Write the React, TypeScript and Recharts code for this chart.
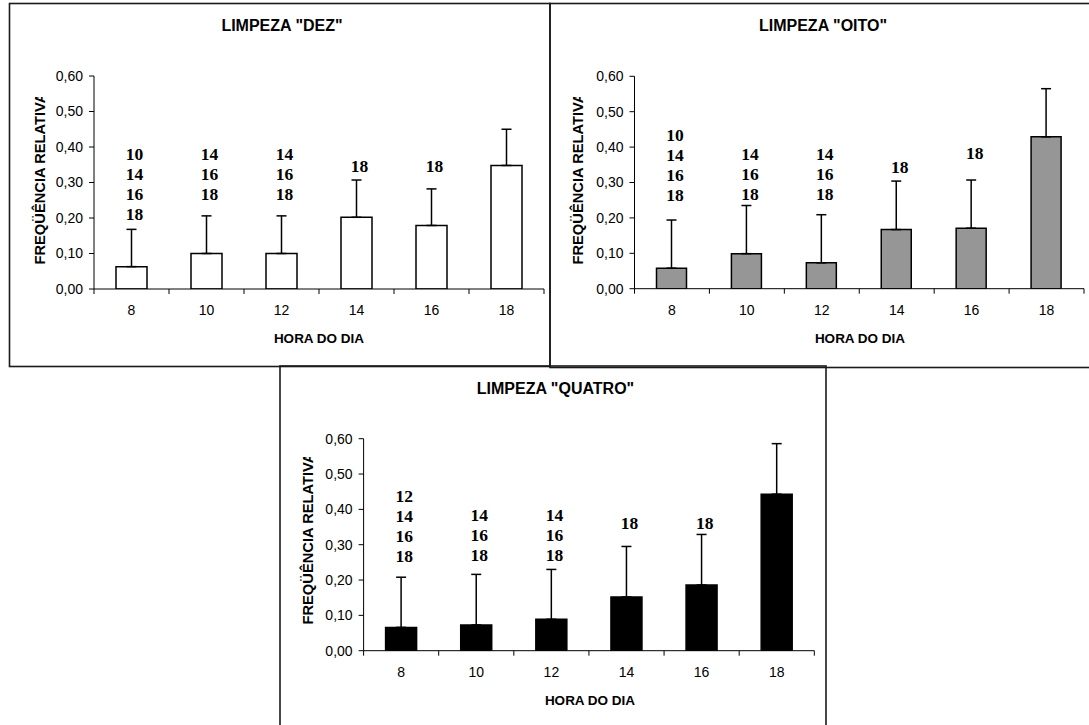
import React from 'react';
import { ComposedChart, Bar, XAxis, YAxis, ErrorBar, Scatter } from 'recharts';

// ---------- data ----------
const hours = ['8', '10', '12', '14', '16', '18'];
const yTicks = [0, 0.1, 0.2, 0.3, 0.4, 0.5, 0.6];

const dezMeans = [0.063, 0.1, 0.1, 0.202, 0.179, 0.348];
const dezErrors = [0.105, 0.106, 0.106, 0.105, 0.103, 0.102];
const dezGroups = [['10', '14', '16', '18'], ['14', '16', '18'], ['14', '16', '18'], ['18'], ['18'], []];
const dezGroupTop = [0.38, 0.38, 0.38, 0.346, 0.346, null];

const oitoMeans = [0.058, 0.099, 0.073, 0.167, 0.171, 0.429];
const oitoErrors = [0.136, 0.136, 0.136, 0.137, 0.136, 0.136];
const oitoGroups = [['10', '14', '16', '18'], ['14', '16', '18'], ['14', '16', '18'], ['18'], ['18'], []];
const oitoGroupTop = [0.434, 0.381, 0.381, 0.345, 0.384, null];

const quatroMeans = [0.066, 0.073, 0.089, 0.152, 0.186, 0.443];
const quatroErrors = [0.142, 0.143, 0.141, 0.143, 0.143, 0.143];
const quatroGroups = [['12', '14', '16', '18'], ['14', '16', '18'], ['14', '16', '18'], ['18'], ['18'], []];
const quatroGroupTop = [0.439, 0.385, 0.385, 0.362, 0.362, null];

const yAxisTitle = 'FREQÜÊNCIA RELATIVA';
const xAxisTitle = 'HORA DO DIA';

// ---------- styles / layout ----------
const SANS = '"Liberation Sans", Arial, Helvetica, sans-serif';
const SERIF = '"Liberation Serif", "Times New Roman", serif';

type Box = { x: number; y: number; w: number; h: number };
type Plot = { l: number; t: number; r: number; b: number };

type PanelDef = {
  title: string;
  means: number[];
  errors: number[];
  groups: string[][];
  groupTop: (number | null)[];
  fill: string;
  box: Box;
  plot: Plot;
  barSize: number;
  titlePos: [number, number];
  xLabelPos: [number, number];
  yLabel: { x: number; start: number; clipTop: number };
  border: Box;
};

const panels: PanelDef[] = [
  {
    title: 'LIMPEZA "DEZ"',
    means: dezMeans,
    errors: dezErrors,
    groups: dezGroups,
    groupTop: dezGroupTop,
    fill: '#ffffff',
    box: { x: 9, y: 4, w: 541, h: 362 },
    plot: { l: 94, t: 76, r: 544, b: 289 },
    barSize: 31,
    titlePos: [282, 25],
    xLabelPos: [319, 338],
    yLabel: { x: 39.5, start: 264.5, clipTop: 97 },
    border: { x: 9.5, y: 3.5, w: 540.5, h: 363 },
  },
  {
    title: 'LIMPEZA "OITO"',
    means: oitoMeans,
    errors: oitoErrors,
    groups: oitoGroups,
    groupTop: oitoGroupTop,
    fill: '#969696',
    box: { x: 550, y: 4, w: 539, h: 363 },
    plot: { l: 634.5, t: 76.3, r: 1084, b: 288.7 },
    barSize: 30,
    titlePos: [823, 25],
    xLabelPos: [860, 338],
    yLabel: { x: 578, start: 264.5, clipTop: 97 },
    border: { x: 550, y: 3.5, w: 545, h: 364 },
  },
  {
    title: 'LIMPEZA "QUATRO"',
    means: quatroMeans,
    errors: quatroErrors,
    groups: quatroGroups,
    groupTop: quatroGroupTop,
    fill: '#000000',
    box: { x: 280, y: 366, w: 546, h: 359 },
    plot: { l: 363.6, t: 438.7, r: 814.3, b: 650.7 },
    barSize: 31,
    titlePos: [555.5, 388],
    xLabelPos: [590, 700],
    yLabel: { x: 308, start: 624.5, clipTop: 457 },
    border: { x: 280, y: 366, w: 546, h: 400 },
  },
];

const fmt = (v: number) => v.toFixed(2).replace('.', ',');

function Panel({ p }: { p: PanelDef }) {
  const data = hours.map((h, i) => ({
    hour: h,
    mean: p.means[i],
    err: [0, p.errors[i]],
    top: p.groupTop[i] === null ? undefined : p.groupTop[i],
    groups: p.groups[i],
  }));
  const W = p.box.w;
  const H = p.box.h;
  const xH = 40;
  const mTop = p.plot.t - p.box.y;
  const yW = p.plot.l - p.box.x;
  const mRight = p.box.x + W - p.plot.r;
  const mBottom = p.box.y + H - p.plot.b - xH;
  const bottomLocal = p.plot.b - p.box.y;
  const band = (p.plot.r - p.plot.l) / hours.length;

  const renderXTick = (props: any) => {
    const { x, payload, index } = props;
    const left = x - band / 2;
    return (
      <g>
        <line x1={left} x2={left} y1={bottomLocal} y2={bottomLocal + 5} stroke="#000" strokeWidth={1} />
        {index === hours.length - 1 && (
          <line x1={x + band / 2} x2={x + band / 2} y1={bottomLocal} y2={bottomLocal + 5} stroke="#000" strokeWidth={1} />
        )}
        <text
          x={x}
          y={bottomLocal + 21}
          textAnchor="middle"
          dominantBaseline="central"
          fontSize={14}
          fontFamily={SANS}
          fill="#000"
        >
          {payload.value}
        </text>
      </g>
    );
  };

  const renderGroups = (props: any) => {
    const { cx, cy, payload } = props;
    const lines: string[] = (payload && payload.groups) || [];
    if (!lines.length || !Number.isFinite(cy) || !Number.isFinite(cx)) return <g />;
    return (
      <g>
        {lines.map((t, i) => (
          <text
            key={i}
            x={cx + 3}
            y={cy + i * 20}
            textAnchor="middle"
            dominantBaseline="central"
            fontSize={17.5}
            fontWeight="bold"
            fontFamily={SERIF}
            fill="#000"
          >
            {t}
          </text>
        ))}
      </g>
    );
  };

  return (
    <div style={{ position: 'absolute', left: p.box.x, top: p.box.y, width: W, height: H }}>
      <ComposedChart
        width={W}
        height={H}
        data={data}
        margin={{ top: mTop, right: mRight, bottom: mBottom, left: 0 }}
      >
        <XAxis
          dataKey="hour"
          height={xH}
          interval={0}
          tickLine={false}
          axisLine={{ stroke: '#000', strokeWidth: 1 }}
          tick={renderXTick}
        />
        <YAxis
          width={yW}
          type="number"
          domain={[0, 0.6]}
          ticks={yTicks}
          interval={0}
          allowDataOverflow
          tickFormatter={fmt}
          tickSize={5}
          tickMargin={6}
          axisLine={{ stroke: '#000', strokeWidth: 1 }}
          tickLine={{ stroke: '#000', strokeWidth: 1 }}
          tick={{ fill: '#000', fontSize: 14, fontFamily: SANS }}
        />
        <Bar
          dataKey="mean"
          fill={p.fill}
          stroke="#000"
          strokeWidth={1.5}
          barSize={p.barSize}
          isAnimationActive={false}
        >
          <ErrorBar dataKey="err" direction="y" width={5} stroke="#000" strokeWidth={1.5} />
        </Bar>
        <Scatter dataKey="top" shape={renderGroups} isAnimationActive={false} />
      </ComposedChart>
    </div>
  );
}

export default function App() {
  return (
    <div
      style={{
        position: 'absolute',
        left: 0,
        top: 0,
        width: 1089,
        height: 725,
        background: '#fff',
        overflow: 'hidden',
      }}
    >
      {panels.map((p, i) => (
        <Panel key={i} p={p} />
      ))}
      <svg
        width={1089}
        height={725}
        style={{ position: 'absolute', left: 0, top: 0, pointerEvents: 'none' }}
      >
        <defs>
          {panels.map((p, i) => (
            <clipPath id={`ylab-clip-${i}`} key={i}>
              <rect x={p.yLabel.x - 15} y={p.yLabel.clipTop} width={30} height={400} />
            </clipPath>
          ))}
        </defs>
        {panels.map((p, i) => (
          <g key={i}>
            <rect
              x={p.border.x}
              y={p.border.y}
              width={p.border.w}
              height={p.border.h}
              fill="none"
              stroke="#1a1a1a"
              strokeWidth={1.6}
            />
            <text
              x={p.titlePos[0]}
              y={p.titlePos[1]}
              textAnchor="middle"
              dominantBaseline="central"
              fontSize={16}
              fontWeight="bold"
              fontFamily={SANS}
              fill="#000"
            >
              {p.title}
            </text>
            <text
              x={p.xLabelPos[0]}
              y={p.xLabelPos[1]}
              textAnchor="middle"
              dominantBaseline="central"
              fontSize={13.5}
              fontWeight="bold"
              fontFamily={SANS}
              fill="#000"
            >
              {xAxisTitle}
            </text>
            <g clipPath={`url(#ylab-clip-${i})`}>
              <text
                transform={`translate(${p.yLabel.x},${p.yLabel.start}) rotate(-90)`}
                textAnchor="start"
                dominantBaseline="central"
                fontSize={14.7}
                fontWeight="bold"
                fontFamily={SANS}
                fill="#000"
              >
                {yAxisTitle}
              </text>
            </g>
          </g>
        ))}
      </svg>
    </div>
  );
}
